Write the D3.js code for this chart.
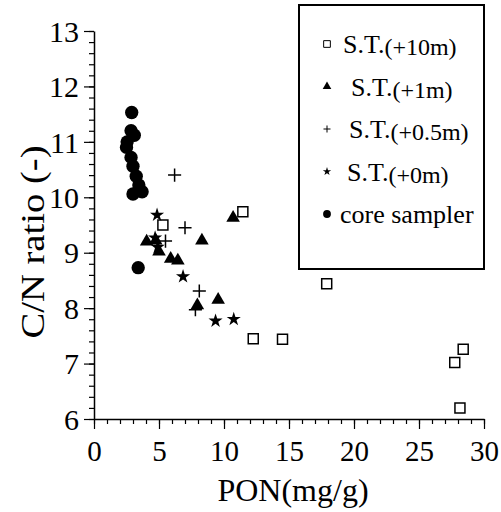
<!DOCTYPE html>
<html>
<head>
<meta charset="utf-8">
<script src="https://cdn.jsdelivr.net/npm/d3@7"></script>
<style>
  body { margin: 0; background: #fff; }
</style>
</head>
<body>
<script>
// data: [PON, C/N]
var st10 = [[5.3, 9.50], [11.45, 9.74], [12.25, 7.45], [14.5, 7.44], [17.9, 8.44],
            [27.75, 7.02], [28.4, 7.26], [28.15, 6.20]];
var st1 = [[4.05, 9.20], [4.75, 9.22], [5.0, 9.02], [5.9, 8.89], [6.45, 8.86],
           [8.3, 9.22], [10.7, 9.63], [7.95, 8.05], [9.55, 8.15]];
var st05 = [[6.2, 10.40], [7.0, 9.45], [5.5, 9.21], [8.1, 8.31], [7.8, 7.97]];
var st0 = [[4.85, 9.68], [4.7, 9.27], [4.9, 9.1], [6.85, 8.57], [9.35, 7.77], [10.75, 7.80]];
var core = [[2.9, 11.53], [2.85, 11.2], [3.1, 11.12], [2.55, 11.0], [2.5, 10.9],
            [2.85, 10.72], [3.0, 10.56], [3.25, 10.38], [3.45, 10.22], [3.0, 10.06],
            [3.7, 10.1], [3.4, 8.73]];

var xTicks = [0, 5, 10, 15, 20, 25, 30];
var yTicks = [6, 7, 8, 9, 10, 11, 12, 13];
var legendLabels = [["S.T.", "(+10m)"], ["S.T.", "(+1m)"], ["S.T.", "(+0.5m)"], ["S.T.", "(+0m)"], ["core sampler", ""]];

var serif = "'Liberation Serif', 'Times New Roman', serif";
var width = 501, height = 512;

var x = d3.scaleLinear().domain([0, 30]).range([94, 484]);
var y = d3.scaleLinear().domain([6, 13]).range([419, 31]);

var svg = d3.select("body").append("svg")
    .attr("width", width)
    .attr("height", height)
    .style("font-family", serif);

svg.append("rect").attr("width", width).attr("height", height).attr("fill", "#fff");

// minor ticks
svg.append("g")
    .attr("transform", "translate(0," + y(6) + ")")
    .call(d3.axisBottom(x).tickValues(d3.range(0, 31, 1)).tickSize(5).tickFormat(""))
    .call(function(g) { g.select(".domain").remove(); });
svg.append("g")
    .attr("transform", "translate(" + x(0) + ",0)")
    .call(d3.axisLeft(y).tickValues(d3.range(6, 13.01, 0.2)).tickSize(5).tickFormat(""))
    .call(function(g) { g.select(".domain").remove(); });

// major ticks + labels
var xAxis = svg.append("g")
    .attr("transform", "translate(0," + y(6) + ")")
    .call(d3.axisBottom(x).tickValues(xTicks).tickSize(10).tickSizeOuter(0).tickPadding(11).tickFormat(d3.format("d")));
var yAxis = svg.append("g")
    .attr("transform", "translate(" + x(0) + ",0)")
    .call(d3.axisLeft(y).tickValues(yTicks).tickSize(10).tickSizeOuter(0).tickPadding(5).tickFormat(d3.format("d")));

svg.selectAll("g").attr("font-family", null).attr("font-size", null);
xAxis.selectAll("text").style("font-family", serif).style("font-size", "29px");
yAxis.selectAll("text").style("font-family", serif).style("font-size", "30px").attr("dy", "0.34em");

svg.selectAll(".domain").attr("stroke-width", 1.5);
svg.selectAll(".tick line").attr("stroke-width", 1.2);

// axis titles
svg.append("text")
    .attr("x", 293).attr("y", 501)
    .attr("text-anchor", "middle")
    .style("font-size", "32px")
    .text("PON(mg/g)");
svg.append("text")
    .attr("transform", "translate(44,242) rotate(-90)")
    .attr("text-anchor", "middle")
    .attr("textLength", 193)
    .attr("lengthAdjust", "spacingAndGlyphs")
    .style("font-size", "34px")
    .text("C/N ratio (-)");

// symbols
function draw(data, type, size, filled) {
  svg.append("g").selectAll("path")
      .data(data)
    .enter().append("path")
      .attr("transform", function(d) { return "translate(" + x(d[0]) + "," + y(d[1]) + ")"; })
      .attr("d", d3.symbol().type(type).size(size))
      .attr("fill", filled ? "#000" : "none")
      .attr("stroke", "#000")
      .attr("stroke-width", filled ? 0 : 1.5);
}

draw(st10, d3.symbolSquare, 100, false);
draw(st05, d3.symbolPlus, 58, false);
draw(st1, d3.symbolTriangle, 80, true);
draw(st0, d3.symbolStar, 62, true);
draw(core, d3.symbolCircle, 140, true);

// legend
var legend = svg.append("g");
legend.append("rect")
    .attr("x", 299).attr("y", 5)
    .attr("width", 185).attr("height", 264)
    .attr("fill", "#fff")
    .attr("stroke", "#000")
    .attr("stroke-width", 2);

var legendSym = [
  {type: d3.symbolSquare, size: 45, filled: false},
  {type: d3.symbolTriangle, size: 32, filled: true},
  {type: d3.symbolPlus, size: 18, filled: false},
  {type: d3.symbolStar, size: 22, filled: true},
  {type: d3.symbolCircle, size: 48, filled: true}
];
var legendTextX = [343, 351, 349, 347, 340];

legendLabels.forEach(function(l, i) {
  var cy = 44 + i * 42.5;
  var s = legendSym[i];
  legend.append("path")
      .attr("transform", "translate(327," + cy + ")")
      .attr("d", d3.symbol().type(s.type).size(s.size))
      .attr("fill", s.filled ? "#000" : "none")
      .attr("stroke", "#000")
      .attr("stroke-width", s.filled ? 0 : 1);
  var t = legend.append("text")
      .attr("x", legendTextX[i]).attr("y", cy + 9)
      .style("font-size", "26px");
  t.append("tspan").text(l[0]);
  if (l[1]) t.append("tspan").attr("dy", 2).style("font-size", "24px").text(l[1]);
});
</script>
</body>
</html>
